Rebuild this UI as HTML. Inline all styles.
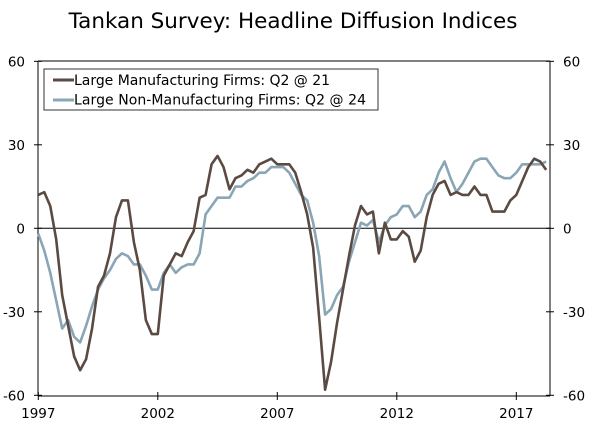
<!DOCTYPE html>
<html><head><meta charset="utf-8"><style>
body{margin:0;background:#fff;}
svg{display:block;font-family:"DejaVu Sans","Liberation Sans",sans-serif;}
</style></head><body>
<svg width="600" height="426" viewBox="0 0 600 426">
<text x="293" y="28" text-anchor="middle" font-size="21.5" fill="#000">Tankan Survey: Headline Diffusion Indices</text>
<g id="axes"></g>
<g id="series"></g>
<g>
<rect x="44" y="69" width="334" height="41" fill="#fff" stroke="#333" stroke-width="1"/>
<line x1="53" y1="80" x2="74" y2="80" stroke="#5a4a42" stroke-width="3"/>
<text x="74" y="85" font-size="14" textLength="256">Large Manufacturing Firms: Q2 @ 21</text>
<line x1="53" y1="100" x2="74" y2="100" stroke="#8aa5b5" stroke-width="3"/>
<text x="74" y="104.5" font-size="14" textLength="292">Large Non-Manufacturing Firms: Q2 @ 24</text>
</g>
</svg>
<script>
const startYear = 1997;
const yTicks = [60, 30, 0, -30, -60];
const xTickYears = [1997, 2002, 2007, 2012, 2017];
const manufacturing = [12,13,8,-4,-24,-35,-46,-51,-47,-36,-21,-17,-9,4,10,10,-5,-15,-33,-38,-38,-17,-13,-9,-10,-5,-1,11,12,23,26,22,14,18,19,21,20,23,24,25,23,23,23,20,13,5,-7,-32,-58,-48,-34,-22,-10,1,8,5,6,-9,2,-4,-4,-1,-3,-12,-8,4,12,16,17,12,13,12,12,15,12,12,6,6,6,10,12,17,22,25,24,21];
const nonManufacturing = [-2,-8,-16,-26,-36,-33,-39,-41,-35,-28,-22,-18,-15,-11,-9,-10,-13,-13,-17,-22,-22,-16,-13,-16,-14,-13,-13,-9,5,8,11,11,11,15,15,17,18,20,20,22,22,22,20,16,12,10,2,-10,-31,-29,-24,-21,-12,-5,2,1,3,-5,1,4,5,8,8,4,6,12,14,20,24,18,13,16,20,24,25,25,22,19,18,18,20,23,23,23,23,24];

const X0=38.3, PXY=23.9, Y0=228.3, PXV=2.783, L=38, R=550, T=61, B=396;
const xs = t => X0 + (t-startYear)*PXY;
const ys = v => Y0 - v*PXV;
const NS='http://www.w3.org/2000/svg';
const axes=document.getElementById('axes'), series=document.getElementById('series');
function mk(tag,attrs,parent){const e=document.createElementNS(NS,tag);for(const k in attrs)e.setAttribute(k,attrs[k]);parent.appendChild(e);return e;}

let e;
e=mk('line',{x1:L,y1:T,x2:L,y2:B,stroke:'#000','stroke-width':1},axes);


e=mk('line',{x1:R,y1:T,x2:R,y2:B,stroke:'#000','stroke-width':1},axes);


e=mk('line',{x1:L,y1:B,x2:R,y2:B,stroke:'#000','stroke-width':1},axes);


e=mk('line',{x1:L,y1:T,x2:R,y2:T,stroke:'#000','stroke-width':1},axes);


e=mk('line',{x1:L,y1:ys(0),x2:R,y2:ys(0),stroke:'#000','stroke-width':1},axes);



yTicks.forEach(v=>{
  const y=ys(v);
  mk('line',{x1:L-4,y1:y,x2:L+4,y2:y,stroke:'#000'},axes);
  mk('line',{x1:R-4,y1:y,x2:R+4,y2:y,stroke:'#000'},axes);
  let t=mk('text',{x:25,y:y+5,'text-anchor':'end','font-size':13.5},axes);
  t.textContent=v;
  
  
  t=mk('text',{x:563,y:y+5,'text-anchor':'start','font-size':13.5},axes);
  t.textContent=v;
  
  
});
xTickYears.forEach(yr=>{
  const x=xs(yr);
  mk('line',{x1:x,y1:B-4,x2:x,y2:B+4,stroke:'#000'},axes);
  const t=mk('text',{x:x,y:418,'text-anchor':'middle','font-size':13.5},axes);
  t.textContent=yr;
  
  
});

function line(vals,color,name){
  const d=vals.map((v,i)=>(i?'L':'M')+xs(startYear+i*0.25).toFixed(2)+' '+ys(v).toFixed(2)).join(' ');
  const p=mk('path',{d:d,fill:'none',stroke:color,'stroke-width':2.6,'stroke-linejoin':'round'},series);
  
  
}
line(nonManufacturing,'#8aa5b5','non-manufacturing-line');
line(manufacturing,'#5a4a42','manufacturing-line');
</script>
</body></html>
